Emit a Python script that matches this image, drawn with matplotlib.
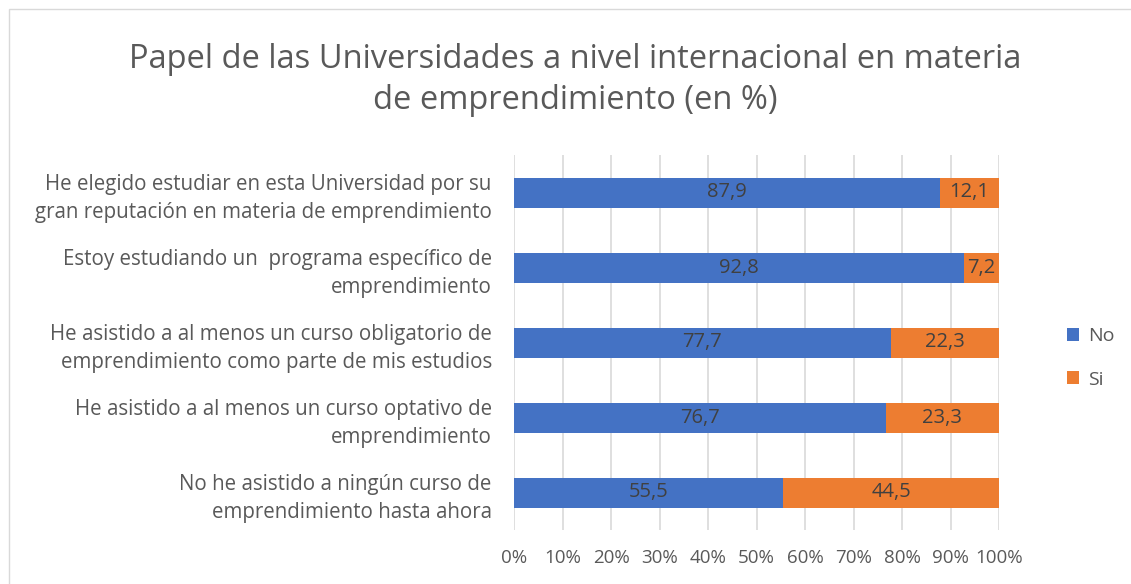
import matplotlib.pyplot as plt
import numpy as np
from matplotlib.patches import Rectangle

plt.rcParams['font.family'] = ['Open Sans', 'DejaVu Sans']

# Data
categories = [
    "He elegido estudiar en esta Universidad por su\ngran reputación en materia de emprendimiento",
    "Estoy estudiando un  programa específico de\nemprendimiento",
    "He asistido a al menos un curso obligatorio de\nemprendimiento como parte de mis estudios",
    "He asistido a al menos un curso optativo de\nemprendimiento",
    "No he asistido a ningún curso de\nemprendimiento hasta ahora",
]
no_values = [87.9, 92.8, 77.7, 76.7, 55.5]
si_values = [12.1, 7.2, 22.3, 23.3, 44.5]
series_names = ["No", "Si"]
x_ticks = [0, 10, 20, 30, 40, 50, 60, 70, 80, 90, 100]

blue = '#4472C4'
orange = '#ED7D31'
text_gray = '#595959'
label_gray = '#404040'

fig = plt.figure(figsize=(11.31, 5.84), dpi=100)
ax = fig.add_axes([514 / 1131, 54 / 584, 485 / 1131, 375 / 584])

y = np.arange(len(categories))
no_arr = np.array(no_values)
si_arr = np.array(si_values)

b1 = ax.barh(y, no_arr, height=0.4, color=blue, label=series_names[0], zorder=3)
b2 = ax.barh(y, si_arr, left=no_arr, height=0.4, color=orange, label=series_names[1], zorder=3)

for bars, vals in ((b1, no_values), (b2, si_values)):
    ax.bar_label(bars, labels=[f"{v:.1f}".replace('.', ',') for v in vals],
                 label_type='center', color=label_gray, fontsize=14.5)

ax.set_xlim(0, 100)
ax.set_ylim(len(categories) - 0.5, -0.5)
ax.set_yticks(y)
ax.set_yticklabels(categories, fontsize=14.8, color=text_gray, linespacing=1.45)
ax.set_xticks(x_ticks)
ax.set_xticklabels([f"{t}%" for t in x_ticks], fontsize=13.5, color=text_gray)
ax.tick_params(axis='y', length=0, pad=16)
ax.tick_params(axis='x', length=0, pad=14)
ax.grid(True, axis='x', color='#D9D9D9', linewidth=1.2, zorder=0)
for spine in ax.spines.values():
    spine.set_visible(False)

fig.suptitle("Papel de las Universidades a nivel internacional en materia\nde emprendimiento (en %)",
             x=575 / 1131, y=1 - 43 / 584, fontsize=23.5, color=text_gray,
             linespacing=1.33, va='top')

ax.legend(loc='center left', bbox_to_anchor=(1049 / 1131, 1 - 358 / 584),
          bbox_transform=fig.transFigure, frameon=False, fontsize=14,
          labelcolor=text_gray, handlelength=0.65, handleheight=0.65,
          handletextpad=0.45, labelspacing=1.3)

# chart border
fig.patches.append(Rectangle((9 / 1131, -0.01), 1.0, 1.0 - 9 / 584 + 0.01,
                             transform=fig.transFigure, fill=False,
                             edgecolor='#D9D9D9', linewidth=1))

fig.savefig('out.png', dpi=100, facecolor='white')
